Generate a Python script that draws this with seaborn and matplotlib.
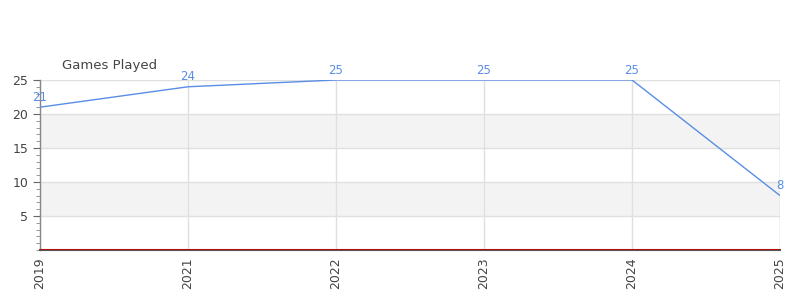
import matplotlib
matplotlib.use("Agg")
import matplotlib.pyplot as plt
import seaborn as sns
import pandas as pd
from matplotlib.ticker import MultipleLocator

seasons = ["2019", "2021", "2022", "2023", "2024", "2025"]
games = [21, 24, 25, 25, 25, 8]
title = "Games Played"

df = pd.DataFrame({"season": seasons, "games": games})
df["pos"] = range(len(seasons))

sns.set_style("white")
plt.rcParams["font.family"] = ["DejaVu Sans"]

fig = plt.figure(figsize=(8, 3), dpi=100)
ax = fig.add_axes([0.05, 0.1667, 0.925, 0.5667])

line_color = "#5a8de6"
text_color = "#444444"

# alternating bands
for lo, hi in [(5, 10), (15, 20)]:
    ax.axhspan(lo, hi, color="#f3f3f3", zorder=0, lw=0)
for y in [5, 10, 15, 20, 25]:
    ax.axhline(y, color="#e0e0e0", lw=1, zorder=0.5)
for x in df["pos"]:
    ax.axvline(x, color="#e0e0e0", lw=1, zorder=0.5)

sns.lineplot(data=df, x="pos", y="games", ax=ax, color=line_color, lw=1.0, zorder=3)

for x, y in zip(df["pos"], df["games"]):
    ax.text(x, y + 0.5, str(y), color=line_color, fontsize=8.5, ha="center", va="bottom", zorder=4)

ax.set_xlim(0, len(seasons) - 1)
ax.set_ylim(0, 25)
ax.set_xticks(df["pos"])
ax.set_xticklabels(seasons, rotation=90, fontsize=9, color=text_color)
ax.set_yticks([5, 10, 15, 20, 25])
ax.set_yticklabels(["5", "10", "15", "20", "25"], fontsize=9, color=text_color)
ax.yaxis.set_minor_locator(MultipleLocator(1))
ax.tick_params(axis="y", which="major", length=5, color="#666666", left=True)
ax.tick_params(axis="y", which="minor", length=3, color="#888888", left=True)
ax.tick_params(axis="x", length=0, pad=5)
ax.set_xlabel("")
ax.set_ylabel("")

for s in ["top", "right"]:
    ax.spines[s].set_visible(False)
ax.spines["left"].set_color("#888888")
ax.spines["left"].set_linewidth(1)
ax.spines["bottom"].set_color("#555555")
ax.spines["bottom"].set_linewidth(1.5)
ax.axhline(0.08, color="#cc0000", lw=0.6, zorder=5)
ax.axvline(len(seasons) - 1, color="#e0e0e0", lw=1, zorder=0.5)

fig.text(62 / 800, 1 - 66 / 300, title, fontsize=9.5, color=text_color, ha="left", va="center")

fig.savefig("out.png", dpi=100)
